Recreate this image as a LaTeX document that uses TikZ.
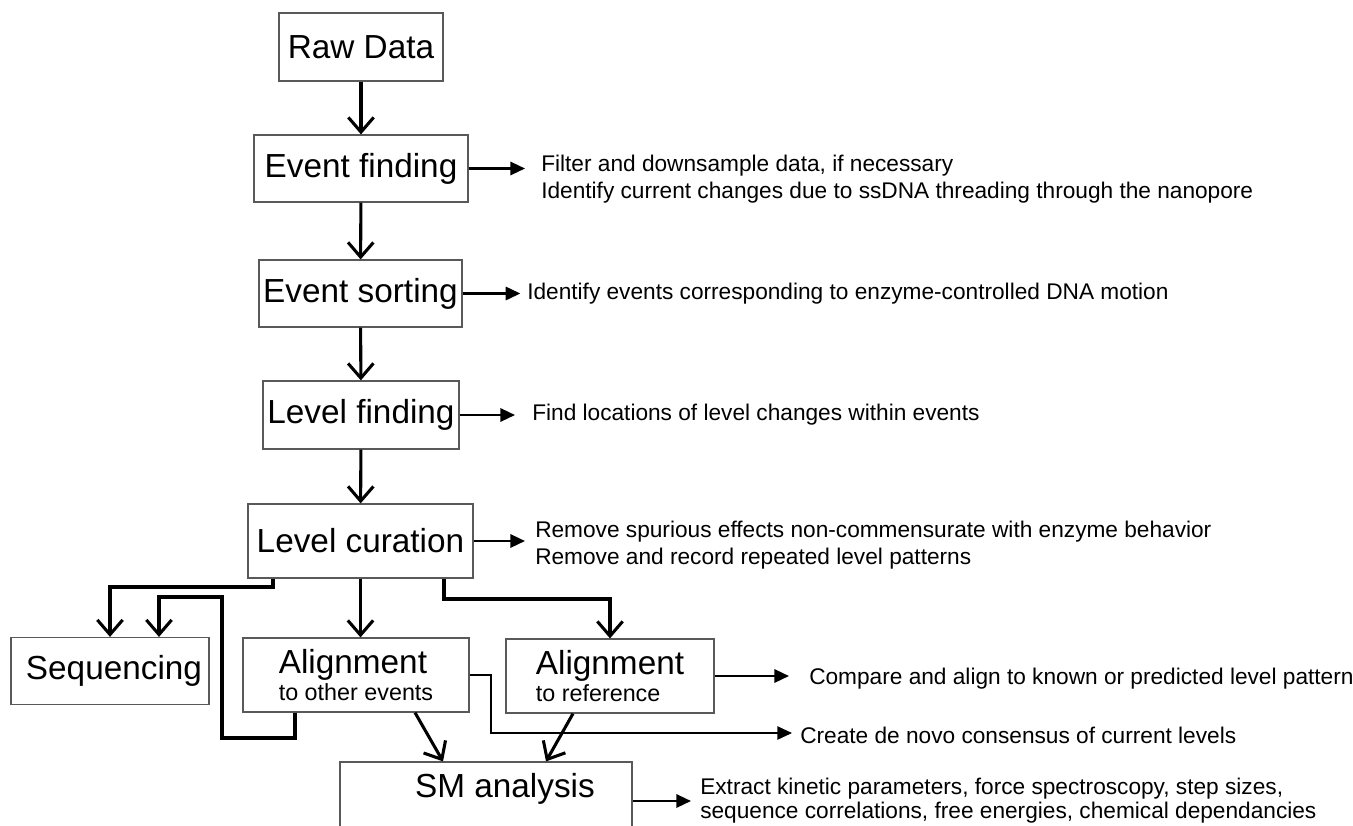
\documentclass[tikz,border=0pt]{standalone}
\usepackage{fontspec}
\setmainfont{Liberation Sans}
\usetikzlibrary{arrows.meta}

\newcommand{\boxfont}{\fontsize{25}{30}\selectfont}
\newcommand{\subfont}{\fontsize{17.5}{20}\selectfont}
\newcommand{\notefont}{\fontsize{17}{20.25}\selectfont}

\tikzset{
	stage/.style 2 args={draw=black!65, line width=0.9pt, minimum width=#1*0.75pt, minimum height=#2*0.75pt, inner sep=0pt, font=\boxfont},
	flow/.style={line width=2.3pt, -{Straight Barb[length=11pt,width=19pt,line width=2.3pt]}},
	note/.style={anchor=west, inner sep=0pt, align=left, font=\notefont},
	tonote/.style={line width=1.7pt, -{Triangle[length=11pt,width=10pt]}},
}

\begin{document}
\begin{tikzpicture}[x=0.75pt,y=0.75pt,yscale=-1,xscale=1]
	\useasboundingbox (0,0) rectangle (1353,825);

	% Pipeline stages
	\node[stage={164}{68}] (raw) at (361,47) {Raw Data};
	\node[stage={214}{67}] (evfind) at (361,168.5) {Event finding};
	\node[stage={203}{67}] (evsort) at (360.5,293.5) {Event sorting};
	\node[stage={196}{68}] (lvfind) at (361,415) {Level finding};
	\node[stage={225}{74}] (lvcur) at (360.5,541) {Level curation};
	\node[stage={198}{67}] (seq) at (110,671) {\hspace*{6pt}Sequencing};
	\node[stage={226}{74}, align=left] (alother) at (356,675) {Alignment\\[-10pt]{\subfont to other events}};
	\node[stage={208}{74}, align=left] (alref) at (610,676) {Alignment\\[-10pt]{\subfont to reference}};
	% SM box runs off the bottom edge
	\node[stage={292}{90}] (sm) at (486,807) {};
	\node[font=\boxfont] (smtext) at (505,789) {SM analysis};

	% Side notes
	\node[note] (nEvfind) at (541,179.5) {Filter and downsample data, if necessary\\Identify current changes due to ssDNA threading through the nanopore};
	\node[note] (nEvsort) at (527,293.5) {Identify events corresponding to enzyme-controlled DNA motion};
	\node[note] (nLvfind) at (532,415) {Find locations of level changes within events};
	\node[note] (nLvcur) at (535,545) {Remove spurious effects non-commensurate with enzyme behavior\\Remove and record repeated level patterns};
	\node[note] (nAlref) at (809,679) {Compare and align to known or predicted level pattern};
	\node[note] (nCreate) at (800,735) {Create de novo consensus of current levels};
	\node[note] (nSm) at (700,801) {Extract kinetic parameters, force spectroscopy, step sizes,\\[-2.25pt]sequence correlations, free energies, chemical dependancies};

	% Bend points
	\coordinate (cSeqA) at (273,587);
	\coordinate (cSeqB) at (295,738);
	\coordinate (cSeqC) at (222,597);
	\coordinate (cSeqD) at (159,597);
	\coordinate (cRef) at (444,599);
	\coordinate (cCons) at (491,733);
	\coordinate (tOther) at (415,0);
	\coordinate (hOther) at (443,0);
	\coordinate (tRef) at (573,0);
	\coordinate (hRef) at (546,0);

	% Main column
	\draw[flow] (raw) -- (evfind);
	\draw[flow] (evfind) -- (evsort);
	\draw[flow] (evsort) -- (lvfind);
	\draw[flow] (lvfind) -- (lvcur);
	\draw[flow] (lvcur) -- (lvcur |- alother.north);

	% Branches below level curation
	\draw[flow] (cSeqA |- lvcur.south) -- (cSeqA) -| (seq.north);
	\draw[flow, line width=2.6pt] (cSeqB |- alother.south) -- (cSeqB) -| (cSeqC) -- (cSeqD) -- (cSeqD |- seq.north);
	\draw[flow] (cRef |- lvcur.south) -- (cRef) -| (alref.north);
	\draw[flow] (tOther |- alother.south) -- (hOther |- sm.north);
	\draw[flow] (tRef |- alref.south) -- (hRef |- sm.north);

	% Arrows to the notes
	\draw[tonote, shorten >=12pt] (evfind.east) -- (evfind.east -| nEvfind.west);
	\draw[tonote, shorten >=5pt] (evsort.east) -- (evsort.east -| nEvsort.west);
	\draw[tonote, shorten >=12.75pt] (lvfind.east) -- (lvfind.east -| nLvfind.west);
	\draw[tonote, shorten >=7.5pt] (lvcur.east) -- (lvcur.east -| nLvcur.west);
	\draw[tonote, shorten >=15pt] (alref.east) -- (alref.east -| nAlref.west);
	\draw[tonote, line width=1.1pt, shorten >=6pt] (alother.east) -| (cCons) -- (cCons -| nCreate.west);
	\draw[tonote, shorten >=6.75pt] (nSm.west -| sm.east) -- (nSm.west);
\end{tikzpicture}
\end{document}
